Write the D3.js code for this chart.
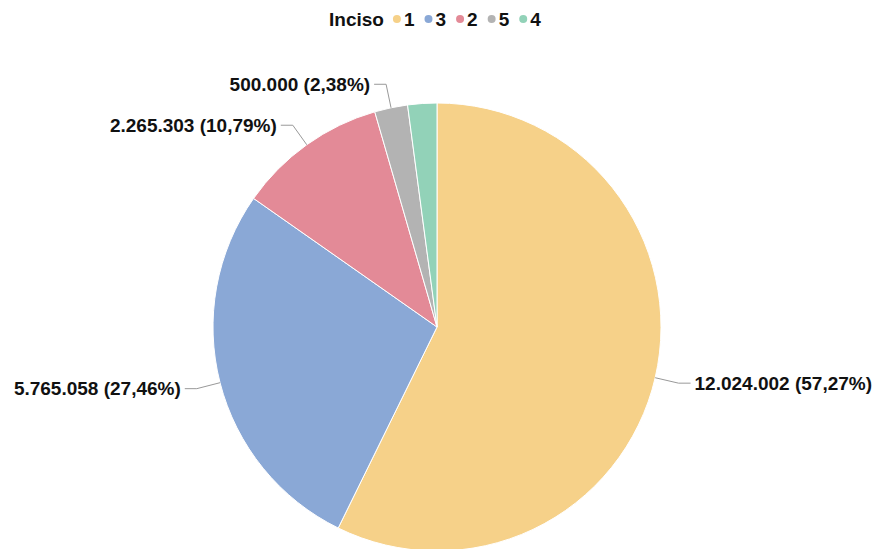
<!DOCTYPE html>
<html><head><meta charset="utf-8">
<script src="https://cdn.jsdelivr.net/npm/d3@7"></script>
<style>body{margin:0;background:#fff;} svg{display:block;font-family:"Liberation Sans",Arial,sans-serif;}</style>
</head><body>
<svg id="c" width="879" height="549"></svg>
<script>
const categories = ["1","3","2","5","4"];
const values = [12024002, 5765058, 2265303, 500000, 440600];
const colors = ["#F6D189","#8AA8D6","#E38A97","#B3B3B3","#92D2B8"];
const showLabel = [true,true,true,true,false];
const legendTitle = "Inciso";

const svg = d3.select("#c");
const W = 879, H = 549;
const cx = 437, cy = 327, r = 224;
const FS = 19;
const total = d3.sum(values);
const fmtNum = d3.formatLocale({decimal:",", thousands:".", grouping:[3], currency:["",""]});
const fInt = fmtNum.format(",d");
const fPct = fmtNum.format(",.2f");

const pie = d3.pie().sort(null).value(d=>d.v);
const data = categories.map((c,i)=>({c, v:values[i], col:colors[i], show:showLabel[i]}));
const arcs = pie(data);
const arc = d3.arc().innerRadius(0).outerRadius(r);
const g = svg.append("g").attr("transform",`translate(${cx},${cy})`);
g.selectAll("path.s").data(arcs).enter().append("path")
  .attr("d",arc).attr("fill",d=>d.data.col).attr("stroke","#fff").attr("stroke-width",1);

// labels
arcs.filter(a=>a.data.show).forEach(a=>{
  const m = (a.startAngle+a.endAngle)/2;
  const sx = Math.sin(m), sy = -Math.cos(m);
  const p0 = [r*sx, r*sy];
  const p1 = [(r+24)*sx, (r+24)*sy];
  const dir = sx>=0 ? 1 : -1;
  const p2 = [p1[0]+dir*12, p1[1]];
  g.append("polyline").attr("points",[p0,p1,p2].map(p=>p.join(",")).join(" "))
    .attr("fill","none").attr("stroke","#999").attr("stroke-width",1);
  g.append("text").attr("x",p2[0]+dir*4).attr("y",p2[1])
    .attr("dy","0.35em").attr("text-anchor",dir>0?"start":"end")
    .attr("font-size",FS).attr("font-weight","bold").attr("fill","#111")
    .text(`${fInt(a.data.v)} (${fPct(a.data.v/total*100)}%)`);
});

// legend
const lg = svg.append("g");
const ly = 19;
const t = lg.append("text").attr("x",0).attr("y",ly).attr("dy","0.35em")
  .attr("font-size",FS).attr("font-weight","bold").attr("fill","#111").text(legendTitle);
let x = t.node().getComputedTextLength() + 13;
data.forEach((d,i)=>{
  lg.append("circle").attr("cx",x).attr("cy",ly).attr("r",4).attr("fill",d.col);
  const tt = lg.append("text").attr("x",x+7).attr("y",ly).attr("dy","0.35em")
    .attr("font-size",FS).attr("font-weight","bold").attr("fill","#111").text(d.c);
  x += 7 + tt.node().getComputedTextLength() + (i<data.length-1 ? 14 : 0);
});
lg.attr("transform",`translate(329,0)`);
</script>
</body></html>
